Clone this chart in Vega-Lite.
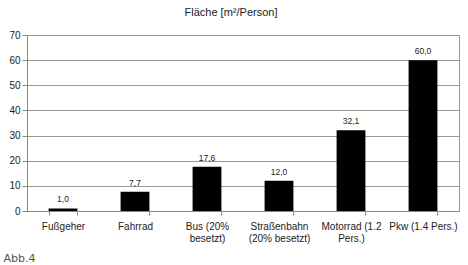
{
  "$schema": "https://vega.github.io/schema/vega-lite/v6.json",
  "autosize": {"type": "none"},
  "width": 432,
  "height": 176,
  "padding": {"left": 27, "top": 35, "right": 9, "bottom": 54},
  "background": "white",
  "title": {"text": "Fläche [m²/Person]", "frame": "bounds", "anchor": "middle", "font": "Liberation Sans", "fontSize": 11, "fontWeight": "normal", "color": "#222", "offset": 12},
  "config": {
    "locale": {"number": {"decimal": ",", "thousands": ".", "grouping": [3], "currency": ["", " €"]}},
    "view": {"stroke": "#999", "strokeWidth": 1},
    "axis": {"labelFont": "Liberation Sans", "labelFontSize": 10, "labelColor": "#222", "domainColor": "#888", "tickColor": "#888", "gridColor": "#999"}
  },
  "data": {"values": [
    {"mode": "Fußgeher", "value": 1.0},
    {"mode": "Fahrrad", "value": 7.7},
    {"mode": "Bus (20%|besetzt)", "value": 17.6},
    {"mode": "Straßenbahn|(20% besetzt)", "value": 12.0},
    {"mode": "Motorrad (1.2|Pers.)", "value": 32.1},
    {"mode": "Pkw (1.4 Pers.)", "value": 60.0}
  ]},
  "encoding": {
    "x": {"field": "mode", "type": "nominal", "sort": null,
      "scale": {"paddingInner": 0.6, "paddingOuter": 0.3},
      "axis": {"labelAngle": 0, "labelAlign": "center", "labelExpr": "split(datum.label, '|')", "labelLineHeight": 12, "labelPadding": 6, "tickBand": "extent", "tickSize": 4, "grid": false,
        "title": "Abb.4", "titleFont": "DejaVu Sans", "titleFontSize": 11, "titleFontWeight": "normal", "titleColor": "#555", "titleAnchor": "start", "titleAlign": "left", "titleX": -24, "titleY": 41}},
    "y": {"field": "value", "type": "quantitative",
      "scale": {"domain": [0, 70]},
      "axis": {"values": [0, 10, 20, 30, 40, 50, 60, 70], "title": null, "tickSize": 5, "labelPadding": 2, "grid": true}}
  },
  "layer": [
    {"mark": {"type": "bar", "color": "black"}},
    {"mark": {"type": "text", "baseline": "bottom", "dy": -4, "font": "Liberation Sans", "fontSize": 8.5, "color": "#222"},
     "encoding": {"text": {"field": "value", "type": "quantitative", "format": ".1f"}}}
  ]
}
